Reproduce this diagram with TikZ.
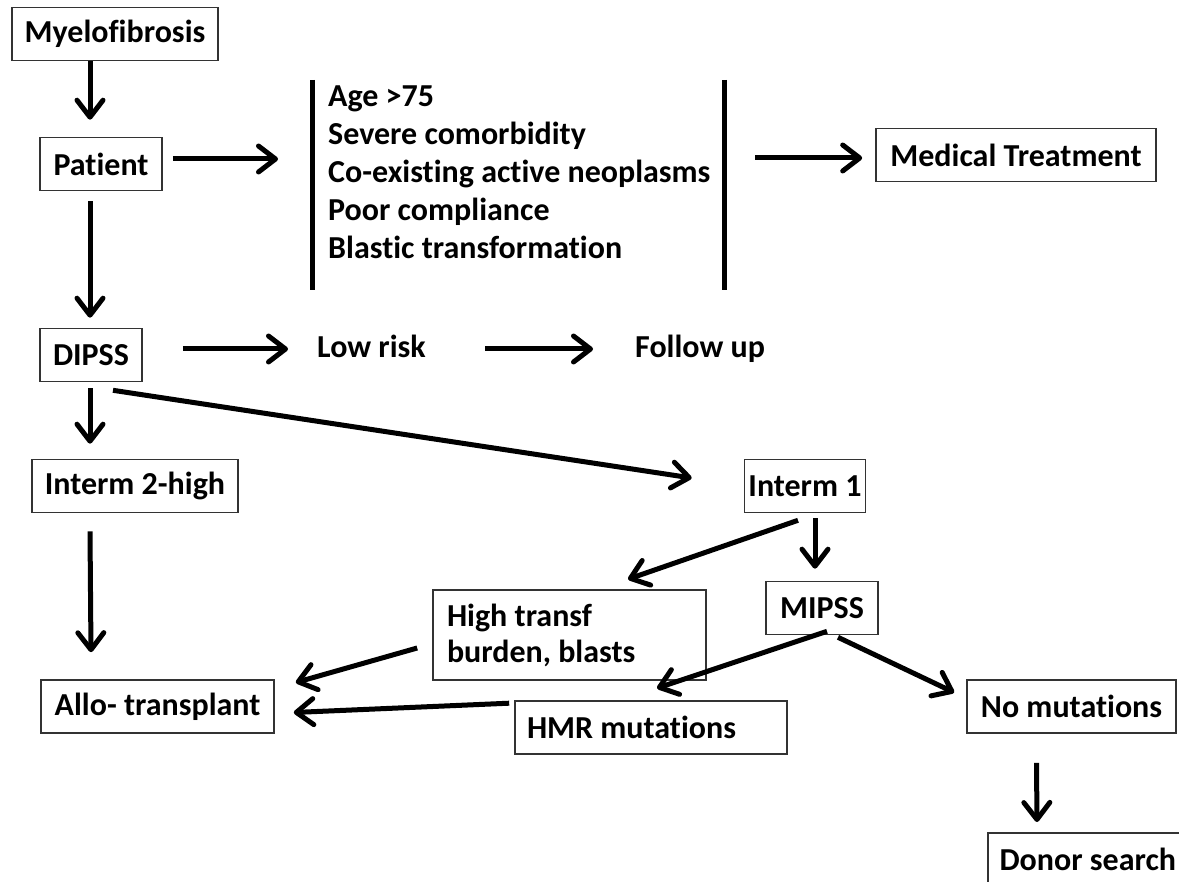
\documentclass[tikz,border=0pt]{standalone}
\usepackage{fontspec}
\setmainfont{Carlito}[Ligatures=NoCommon]
\usetikzlibrary{arrows.meta,calc}

\begin{document}
\begin{tikzpicture}[
    x=1pt,
    y=-1pt,
    font=\bfseries\fontsize{32}{38}\selectfont,
    box/.style={draw=black!80, line width=1.6pt, minimum height=53pt, inner sep=0pt},
    plain/.style={inner sep=0pt},
    link/.style={-{Straight Barb[length=17pt,width=26pt,line cap=round,line join=round]}, line width=5pt},
    bar/.style={line width=5pt}
  ]
    \useasboundingbox (0,0) rectangle (1179,882);
    \clip (0,0) rectangle (1179,882);

    % left column
    \node[box, minimum width=206pt] (myelo) at (115,34) {Myelofibrosis};
    \node[box, minimum width=122pt] (patient) at (101,164) {Patient};
    \node[box, minimum width=102pt] (dipss) at (91,355) {DIPSS};
    \node[box, minimum width=206pt] (int2) at (135,486) {Interm 2-high};
    \node[box, minimum width=233pt] (allo) at (157.5,706.5) {Allo- transplant};

    % exclusion criteria
    \node[plain, align=left, anchor=west] (crit) at (328,172) {Age >75\\Severe comorbidity\\Co-existing active neoplasms\\Poor compliance\\Blastic transformation};
    \coordinate (lbartop) at (312,80);
    \coordinate (lbarbot) at (312,290);
    \coordinate (rbartop) at (724,80);
    \coordinate (rbarbot) at (724,290);
    \draw[bar] (lbartop) -- (lbarbot);
    \draw[bar] (rbartop) -- (rbarbot);
    \node[box, minimum width=280pt] (medical) at (1016,155) {Medical Treatment};

    % risk groups
    \node[plain, anchor=base west] (lowrisk) at (317,358) {Low risk};
    \node[plain, anchor=base west] (followup) at (635,358) {Follow up};
    \node[box, minimum width=121pt] (int1) at (805,486) {Interm 1};
    \node[box, minimum width=112pt] (mipss) at (822,608) {MIPSS};
    \node[box, minimum height=90pt, inner xsep=14pt, text width=245pt, align=flush left,
          font=\bfseries\fontsize{32}{36}\selectfont] (hightr) at (569.5,635) {\spaceskip=0pt\xspaceskip=0pt High transf\\burden, blasts};
    \node[box, inner xsep=12pt, text width=248pt, align=flush left] (hmr) at (651,727.5) {\spaceskip=0pt\xspaceskip=0pt HMR mutations};
    \node[box, minimum width=209pt] (nomut) at (1071.5,706.5) {No mutations};
    \node[box, minimum width=200pt, anchor=north west] (donor) at (987,832) {Donor search};

    % connectors
    \draw[link, shorten >=17pt] ([xshift=-25pt]myelo.south) -- ([xshift=-11pt]patient.north);
    \draw[link, shorten <=10pt, shorten >=50pt] ([yshift=5pt]patient.east) -- ([yshift=5pt]patient.east -| crit.west);
    \draw[link, shorten <=31pt, shorten >=13pt] ([yshift=-3pt]medical.west -| rbartop) -- ([yshift=-3pt]medical.west);
    \draw[link, shorten <=10pt, shorten >=10pt] ([xshift=-11pt]patient.south) -- ([xshift=-1pt]dipss.north);
    \draw[link] ($(dipss.east)+(40,-6)$) -- ($(lowrisk.base west)+(-29,-9)$);
    \draw[link] ($(lowrisk.base west)+(168,-9)$) -- ($(followup.base west)+(-42,-9)$);
    \draw[link] ($(dipss.south)+(-1,6)$) -- ($(int2.north)+(-45,-15)$);
    \draw[link] ($(dipss.south)+(22,8)$) -- ($(int1.west)+(-52,-8)$);
    \draw[link] ($(int2.south)+(-45,18)$) -- ($(allo.north)+(-66.5,-27)$);
    \draw[link] ($(int1.south)+(10,5)$) -- ($(mipss.north)+(-7,-12)$);
    \draw[link] ($(int1.south)+(-7,7)$) -- ($(hightr.north)+(58.5,-10)$);
    \draw[link] ($(hightr.west)+(-15,13)$) -- ($(allo.east)+(21,-24)$);
    \draw[link] ($(hmr.north west)+(-5,3)$) -- ($(allo.east)+(19,6)$);
    \draw[link] ($(mipss.south)+(5,-4)$) -- ($(hmr.north)+(6,-12)$);
    \draw[link] ($(mipss.south)+(16,2)$) -- ($(nomut.west)+(-12,-14)$);
    \draw[link] ($(nomut.south)+(-35,29)$) -- ($(donor.north west)+(50,-10)$);
\end{tikzpicture}
\end{document}
